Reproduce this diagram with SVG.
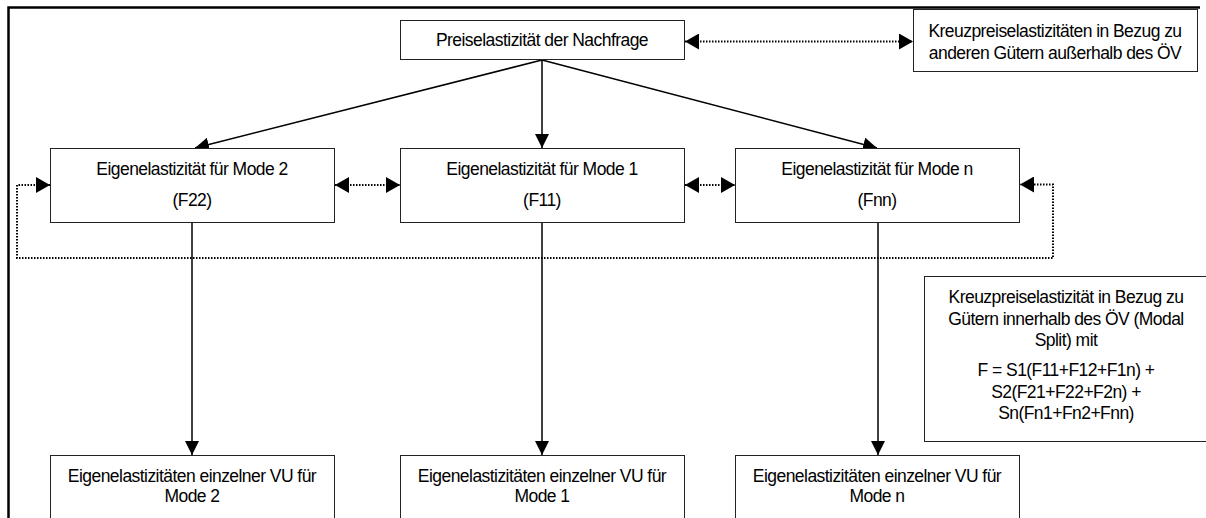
<svg xmlns="http://www.w3.org/2000/svg" width="1206" height="518" viewBox="0 0 1206 518">
<style>
.box{fill:#fff;stroke:#222;stroke-width:1}
.t{font-family:"Liberation Sans",Arial,sans-serif;font-size:17.5px;letter-spacing:-0.55px;fill:#000;text-anchor:middle}
.sol{fill:none;stroke:#000;stroke-width:1.5}
.dot{fill:none;stroke:#000;stroke-width:2;stroke-dasharray:1.5 1.5}
.frame{fill:none;stroke:#000;stroke-width:2.5}
</style>
<defs>
<marker id="ah" markerUnits="userSpaceOnUse" markerWidth="14" markerHeight="14" refX="14" refY="7" orient="auto-start-reverse">
<path d="M0,0 L14,7 L0,14 z" fill="#000"/>
</marker>
<marker id="dh" markerUnits="userSpaceOnUse" markerWidth="14" markerHeight="16" refX="14" refY="8" orient="auto-start-reverse">
<path d="M0,0 L14,8 L0,16 z" fill="#000"/>
</marker>
</defs>
<path class="frame" d="M8.5,518 V7.5 H1200"/>
<g id="connectors">
<line class="sol" x1="542" y1="60" x2="195" y2="148" marker-end="url(#ah)"/>
<line class="sol" x1="542" y1="60" x2="542" y2="148" marker-end="url(#ah)"/>
<line class="sol" x1="542" y1="60" x2="877" y2="148" marker-end="url(#ah)"/>
<line class="sol" x1="192" y1="222" x2="192" y2="455" marker-end="url(#ah)"/>
<line class="sol" x1="542" y1="222" x2="542" y2="455" marker-end="url(#ah)"/>
<line class="sol" x1="878" y1="222" x2="878" y2="455" marker-end="url(#ah)"/>
<line class="dot" x1="685" y1="41.5" x2="913" y2="41.5" marker-start="url(#dh)" marker-end="url(#dh)"/>
<line class="dot" x1="335" y1="185" x2="400" y2="185" marker-start="url(#dh)" marker-end="url(#dh)"/>
<line class="dot" x1="685" y1="185" x2="735" y2="185" marker-start="url(#dh)" marker-end="url(#dh)"/>
<path class="dot" d="M50,185 H17 V258 H1053 V184.5 H1020" marker-start="url(#dh)" marker-end="url(#dh)"/>
</g>
<g id="node-top">
<rect class="box" x="400.5" y="20.5" width="284" height="39"/>
<text class="t" x="542" y="46">Preiselastizität der Nachfrage</text>
</g>
<g id="node-cross-outside">
<rect class="box" x="913.5" y="9.5" width="284" height="62"/>
<text class="t" x="1055" y="37">Kreuzpreiselastizitäten in Bezug zu</text>
<text class="t" x="1055" y="59">anderen Gütern außerhalb des ÖV</text>
</g>
<g id="node-mode2">
<rect class="box" x="50.5" y="148.5" width="284" height="74"/>
<text class="t" x="192" y="175">Eigenelastizität für Mode 2</text>
<text class="t" x="192" y="206">(F22)</text>
</g>
<g id="node-mode1">
<rect class="box" x="400.5" y="148.5" width="284" height="74"/>
<text class="t" x="542" y="175">Eigenelastizität für Mode 1</text>
<text class="t" x="542" y="206">(F11)</text>
</g>
<g id="node-moden">
<rect class="box" x="735.5" y="148.5" width="284" height="74"/>
<text class="t" x="877" y="175">Eigenelastizität für Mode n</text>
<text class="t" x="877" y="206">(Fnn)</text>
</g>
<g id="node-modal-split">
<rect class="box" x="924.5" y="276.5" width="282" height="165"/>
<text class="t" x="1066" y="303">Kreuzpreiselastizität in Bezug zu</text>
<text class="t" x="1066" y="325">Gütern innerhalb des ÖV (Modal</text>
<text class="t" x="1066" y="346">Split) mit</text>
<text class="t" x="1066" y="376">F = S1(F11+F12+F1n) +</text>
<text class="t" x="1066" y="398">S2(F21+F22+F2n) +</text>
<text class="t" x="1066" y="419">Sn(Fn1+Fn2+Fnn)</text>
</g>
<g id="node-vu-mode2">
<rect class="box" x="50.5" y="455.5" width="284" height="80"/>
<text class="t" x="192" y="482">Eigenelastizitäten einzelner VU für</text>
<text class="t" x="192" y="502">Mode 2</text>
</g>
<g id="node-vu-mode1">
<rect class="box" x="400.5" y="455.5" width="284" height="80"/>
<text class="t" x="542" y="482">Eigenelastizitäten einzelner VU für</text>
<text class="t" x="542" y="502">Mode 1</text>
</g>
<g id="node-vu-moden">
<rect class="box" x="735.5" y="455.5" width="284" height="80"/>
<text class="t" x="877" y="482">Eigenelastizitäten einzelner VU für</text>
<text class="t" x="877" y="502">Mode n</text>
</g>
</svg>
